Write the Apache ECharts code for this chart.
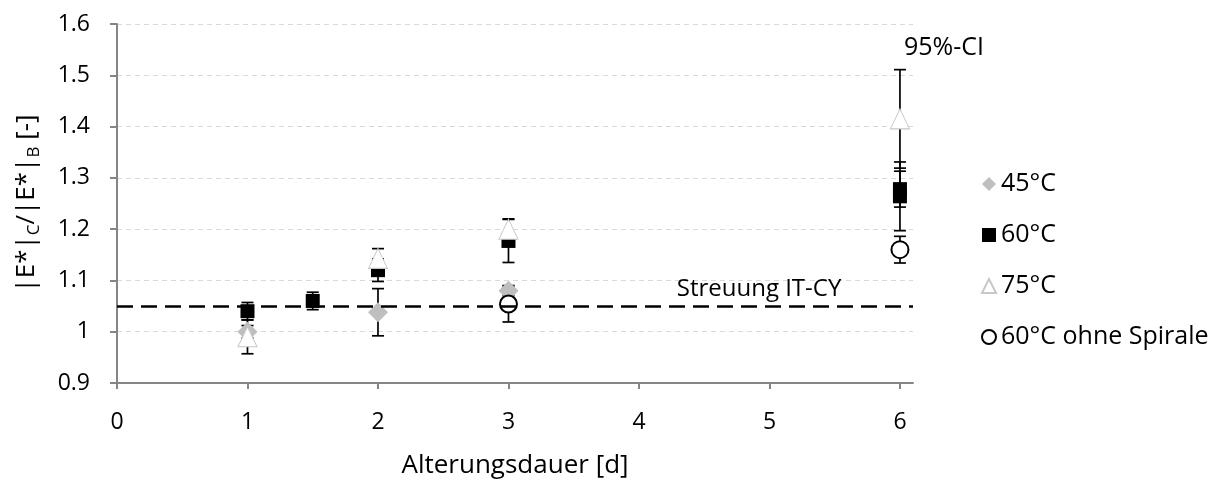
<!DOCTYPE html>
<html>
<head>
<meta charset="utf-8">
<script src="https://cdn.jsdelivr.net/npm/echarts@6/dist/echarts.min.js"></script>
<style>
  html, body { margin: 0; padding: 0; background: #fff; }
  #chart { width: 1225px; height: 484px; }
</style>
</head>
<body>
<div id="chart"></div>
<script>
    // Alterungsdauer [d] / Mittelwert / halbe Breite 95%-CI
    var x45 = [1, 2, 3];
    var y45 = [1.0, 1.038, 1.08];
    var e45 = [0.012, 0.046, 0.01];

    var x60 = [1, 1.5, 2, 3, 6, 6];
    var y60 = [1.04, 1.06, 1.12, 1.177, 1.264, 1.278];
    var e60 = [0.017, 0.017, 0.022, 0.042, 0.067, 0.035];

    var x75 = [1, 2, 3, 6];
    var y75 = [0.99, 1.143, 1.2, 1.415];
    var e75 = [0.033, 0.019, 0.02, 0.096];

    var xOS = [3, 6];
    var yOS = [1.054, 1.16];
    var eOS = [0.035, 0.026];

    var streuung = 1.05;
    var xTicks = [0, 1, 2, 3, 4, 5, 6];

    var FONT = '"Open Sans", sans-serif';
    var chart = echarts.init(document.getElementById('chart'), null, { renderer: 'canvas' });

    function points(xs, ys) {
        return xs.map(function (x, i) { return [x, ys[i]]; });
    }
    function bars(xs, ys, es) {
        return xs.map(function (x, i) { return [x, ys[i] - es[i], ys[i] + es[i]]; });
    }

    function errorSeries(name, data) {
        return {
            type: 'custom',
            name: name,
            silent: true,
            data: data,
            encode: { x: 0, y: [1, 2] },
            renderItem: function (params, api) {
                var lo = api.coord([api.value(0), api.value(1)]);
                var hi = api.coord([api.value(0), api.value(2)]);
                var w = 6;
                var st = { stroke: '#000', lineWidth: 1.7 };
                return {
                    type: 'group',
                    children: [
                        { type: 'line', shape: { x1: lo[0], y1: lo[1], x2: hi[0], y2: hi[1] }, style: st },
                        { type: 'line', shape: { x1: lo[0] - w, y1: lo[1], x2: lo[0] + w, y2: lo[1] }, style: st },
                        { type: 'line', shape: { x1: hi[0] - w, y1: hi[1], x2: hi[0] + w, y2: hi[1] }, style: st }
                    ]
                };
            }
        };
    }

    var option = {
        animation: false,
        textStyle: { fontFamily: FONT },
        grid: { left: 117, right: 312, top: 24, bottom: 99 },
        legend: {
            orient: 'vertical',
            left: 976,
            top: 164,
            itemGap: 21,
            itemWidth: 14,
            itemHeight: 14,
            textStyle: { fontSize: 25, lineHeight: 30, color: '#000', fontFamily: FONT },
            data: [
                { name: '45°C', icon: 'diamond' },
                { name: '60°C', icon: 'rect' },
                { name: '75°C', icon: 'triangle' },
                { name: '60°C ohne Spirale', icon: 'circle' }
            ]
        },
        xAxis: {
            type: 'value',
            min: 0,
            max: 6.1,
            name: 'Alterungsdauer [d]',
            nameLocation: 'middle',
            nameGap: 70,
            nameTextStyle: { fontSize: 26, color: '#000' },
            axisLine: { show: true, onZero: false, lineStyle: { color: '#868686', width: 2 } },
            axisTick: { show: true, length: 6, customValues: xTicks, lineStyle: { color: '#868686', width: 2 } },
            axisLabel: { customValues: xTicks, margin: 28, fontSize: 23, color: '#000' },
            splitLine: { show: false }
        },
        yAxis: {
            type: 'value',
            min: 0.9,
            max: 1.6,
            interval: 0.1,
            name: '{m||E*|}{s|C}{m|/|E*|}{s|B}{m| [-]}',
            nameLocation: 'middle',
            nameGap: 74,
            nameTextStyle: {
                fontSize: 26, color: '#000',
                rich: {
                    m: { fontSize: 26, lineHeight: 32, color: '#000', fontFamily: FONT },
                    s: { fontSize: 17, lineHeight: 17, color: '#000', fontFamily: FONT, verticalAlign: 'bottom' }
                }
            },
            axisLine: { show: true, lineStyle: { color: '#868686', width: 2 } },
            axisTick: { show: true, length: 7, lineStyle: { color: '#868686', width: 2 } },
            axisLabel: { margin: 27, fontSize: 23, color: '#000' },
            splitLine: { show: true, lineStyle: { color: '#d9d9d9', type: [5, 4], width: 1 } }
        },
        series: [
            {
                type: 'line',
                name: 'Streuung IT-CY',
                data: [],
                markLine: {
                    silent: true,
                    symbol: 'none',
                    label: { show: false },
                    lineStyle: { color: '#000', type: [16, 8], width: 2.5 },
                    data: [{ yAxis: streuung }]
                },
                markPoint: {
                    silent: true,
                    symbolSize: 0,
                    label: { show: true, formatter: 'Streuung IT-CY', fontSize: 24, color: '#000', offset: [0, -17] },
                    data: [{ coord: [4.92, streuung] }]
                }
            },
            errorSeries('e45', bars(x45, y45, e45)),
            {
                type: 'scatter', name: '45°C', data: points(x45, y45),
                symbol: 'diamond', symbolSize: [20, 20],
                itemStyle: { color: '#bfbfbf', opacity: 1 }
            },
            errorSeries('e60', bars(x60, y60, e60)),
            {
                type: 'scatter', name: '60°C', data: points(x60, y60),
                symbol: 'rect', symbolSize: 14,
                itemStyle: { color: '#000', opacity: 1 }
            },
            errorSeries('e75', bars(x75, y75, e75)),
            {
                type: 'scatter', name: '75°C', data: points(x75, y75),
                symbol: 'triangle', symbolSize: [19, 20],
                itemStyle: { color: '#fff', borderColor: '#c8c8c8', borderWidth: 1, opacity: 1 },
                markPoint: {
                    silent: true,
                    symbolSize: 0,
                    label: { show: true, position: 'right', distance: 4, formatter: '95%-CI', fontSize: 25, color: '#000' },
                    data: [{ coord: [6, 1.553] }]
                }
            },
            errorSeries('eOS', bars(xOS, yOS, eOS)),
            {
                type: 'scatter', name: '60°C ohne Spirale', data: points(xOS, yOS),
                symbol: 'circle', symbolSize: 17,
                itemStyle: { color: '#fff', borderColor: '#000', borderWidth: 2, opacity: 1 }
            }
        ]
    };

    chart.setOption(option);
    window.addEventListener('resize', chart.resize);
</script>
</body>
</html>
